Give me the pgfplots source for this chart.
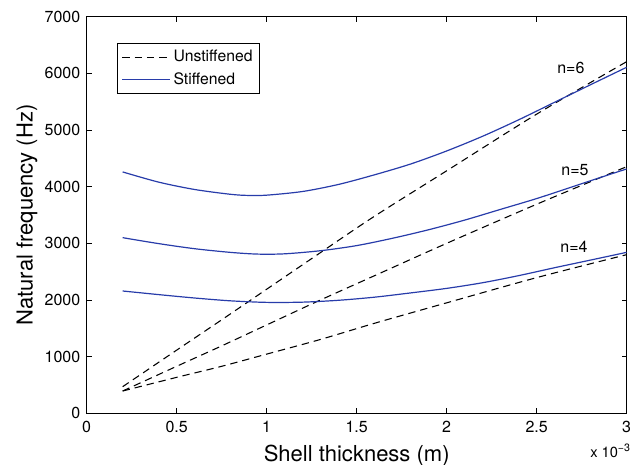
\documentclass[border=0pt]{standalone}
\usepackage{pgfplots}
\pgfplotsset{compat=1.18}
\usepackage{fontspec}
\setmainfont{TeX Gyre Heros}
\definecolor{stiff}{RGB}{40,60,170}
\begin{document}
\begin{tikzpicture}
\begin{axis}[name=ax, width=405pt, height=297.5pt, scale only axis,
  xmin=0, xmax=3, ymin=0, ymax=7000,
  xtick={0,0.5,1,1.5,2,2.5,3},
  xticklabels={0,0.5,1,1.5,2,2.5,3},
  ytick={0,1000,2000,3000,4000,5000,6000,7000},
  yticklabels={0,1000,2000,3000,4000,5000,6000,7000},
  tick align=inside, major tick length=3.75pt,
  axis line style={line width=0.8pt},
  tick style={black, line width=0.6pt},
  ticklabel style={font=\fontsize{12}{14}\selectfont},
  xticklabel style={yshift=-2pt},
  yticklabel style={xshift=-1.25pt},
  xlabel={Shell thickness (m)}, ylabel={Natural frequency (Hz)},
  label style={font=\fontsize{16.5}{19}\selectfont},
  xlabel style={at={(axis description cs:0.5,0)}, anchor=base, yshift=-35.8pt},
  ylabel style={at={(axis description cs:-0.1,0.5)}, anchor=base},
  legend style={at={(axis cs:0.17,6530)}, anchor=north west, draw=black, line width=0.6pt, fill=white,
    font=\fontsize{11.8}{14}\selectfont, inner xsep=3pt, inner ysep=3pt, row sep=2.5pt},
  legend cell align=left,
  legend image code/.code={\draw[#1] (0pt,0pt) -- (36pt,0pt);},
]
% Unstiffened n=6
\addplot[black, line width=0.8pt, dash pattern=on 5.5pt off 3.75pt, smooth] coordinates {
(0.2,470) (0.5,1115) (0.75,1650) (1.0,2190) (1.315,2871) (1.6,3480) (2.0,4280) (2.5,5280) (3.0,6206)};
\addlegendentry{Unstiffened}
% Stiffened n=6
\addplot[stiff, line width=0.9pt, smooth] coordinates {
(0.2,4260) (0.4,4080) (0.6,3950) (0.8,3865) (0.9,3845) (1.0,3850) (1.2,3915) (1.4,4040) (1.6,4210)
(1.8,4400) (2.0,4630) (2.2,4890) (2.4,5180) (2.6,5490) (2.8,5800) (3.0,6107)};
\addlegendentry{Stiffened}
% Unstiffened n=5
\addplot[black, line width=0.8pt, dash pattern=on 5.5pt off 3.75pt, smooth, forget plot] coordinates {
(0.2,394) (0.5,830) (0.75,1190) (1.0,1560) (1.278,1970) (1.6,2430) (2.0,3000) (2.5,3690) (3.0,4353)};
% Unstiffened n=4
\addplot[black, line width=0.8pt, dash pattern=on 5.5pt off 3.75pt, smooth, forget plot] coordinates {
(0.2,394) (0.5,635) (0.75,830) (1.0,1045) (1.3,1305) (1.6,1590) (2.0,1950) (2.5,2395) (3.0,2800)};
% Stiffened n=5
\addplot[stiff, line width=0.9pt, smooth, forget plot] coordinates {
(0.2,3100) (0.4,2995) (0.6,2905) (0.8,2840) (0.95,2810) (1.1,2815) (1.3,2870) (1.5,2960) (1.7,3090)
(1.9,3240) (2.1,3410) (2.3,3600) (2.5,3790) (2.7,4000) (2.9,4210) (3.0,4312)};
% Stiffened n=4
\addplot[stiff, line width=0.9pt, smooth, forget plot] coordinates {
(0.2,2159) (0.4,2095) (0.6,2035) (0.8,1985) (1.0,1958) (1.2,1962) (1.4,1995) (1.6,2050) (1.8,2125)
(2.0,2205) (2.2,2305) (2.4,2430) (2.6,2570) (2.8,2705) (3.0,2841)};
\node[font=\fontsize{12}{14}\selectfont] at (axis cs:2.69,6095) {n=6};
\node[font=\fontsize{12}{14}\selectfont] at (axis cs:2.713,4294) {n=5};
\node[font=\fontsize{12}{14}\selectfont] at (axis cs:2.707,2935) {n=4};
\end{axis}
\node[anchor=west, font=\fontsize{11}{12}\selectfont, inner sep=0pt] at ([xshift=-27.5pt,yshift=-28pt]ax.south east) {x 10\raisebox{0.7ex}{\fontsize{8}{9}\selectfont −3}};
\pgfresetboundingbox
\useasboundingbox ([shift={(-65pt,-38.75pt)}]ax.south west) rectangle ([shift={(2.5pt,12.5pt)}]ax.north east);
\end{tikzpicture}
\end{document}
